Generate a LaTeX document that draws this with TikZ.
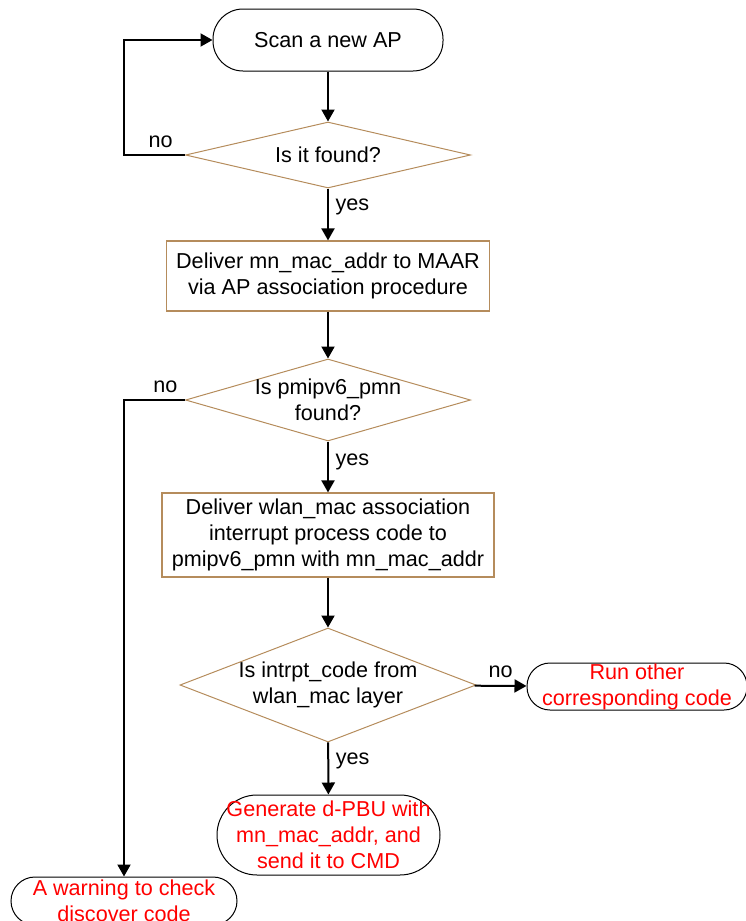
\documentclass[tikz,border=0pt]{standalone}
\usepackage{fontspec}
\setmainfont{Liberation Sans}
\usetikzlibrary{shapes,arrows.meta}
\definecolor{tanline}{RGB}{181,140,92}

\begin{document}
\begin{tikzpicture}[x=0.5pt,y=-0.5pt,>={Triangle[width=6.5pt,length=6pt]},font=\fontsize{10.8}{13}\selectfont]
\tikzstyle{terminal}=[rectangle,draw,line width=0.5pt,rounded corners=15pt,align=center,inner sep=0pt]
\tikzstyle{decision}=[diamond,draw=tanline,line width=0.5pt,inner sep=0pt]
\tikzstyle{process}=[rectangle,draw=tanline,line width=0.6pt,align=center,inner sep=0pt]
\tikzstyle{redtext}=[text=red]
\tikzstyle{flow}=[->,line width=1pt]
\useasboundingbox (0,0) rectangle (745,921);

\node[terminal,minimum width=115pt,minimum height=31pt] (scan) at (328,40) {Scan a new AP};
\node[decision,minimum width=142.5pt,minimum height=33pt,label={center:Is it found?}] (found) at (328,155) {};
\node[process,minimum width=161.5pt,minimum height=35pt] (mac) at (328,276) {Deliver mn\_mac\_addr to MAAR\\via AP association procedure};
\node[decision,minimum width=142.5pt,minimum height=41pt,label={[align=center]center:Is pmipv6\_pmn\\found?}] (pmn) at (328,400) {};
\node[process,minimum width=166pt,minimum height=42pt] (intr) at (328,535) {Deliver wlan\_mac association\\interrupt process code to\\pmipv6\_pmn with mn\_mac\_addr};
\node[decision,minimum width=148pt,minimum height=57pt,label={[align=center]center:Is intrpt\_code from\\wlan\_mac layer}] (layer) at (328,685) {};
\node[terminal,redtext,minimum width=110pt,minimum height=23.5pt,rounded corners=11.5pt] (other) at (637,686.5) {Run other\\corresponding code};
\node[terminal,redtext,minimum width=111.5pt,minimum height=40pt,rounded corners=20pt] (pbu) at (328.5,835) {Generate d-PBU with\\mn\_mac\_addr, and\\send it to CMD};
\node[terminal,redtext,minimum width=113pt,minimum height=24pt,rounded corners=12pt] (warn) at (124,901) {A warning to check\\discover code};

\draw[flow] (scan) -- (found);
\draw[flow] (found.west) -- node[pos=0.4,above]{no} ++(-61,0) |- (scan.west);
\draw[flow] (found) -- node[pos=0.35,right]{yes} (mac);
\draw[flow] (mac) -- (pmn);
\draw[flow] (pmn.west) -| node[pos=0.16,above]{no} (warn.north);
\draw[flow] (pmn) -- node[pos=0.4,right]{yes} (intr);
\draw[flow] (intr) -- (layer);
\draw[flow] (layer) -- node[above]{no} (other);
\draw[flow] (layer) -- node[pos=0.35,right]{yes} (pbu);
\end{tikzpicture}
\end{document}
